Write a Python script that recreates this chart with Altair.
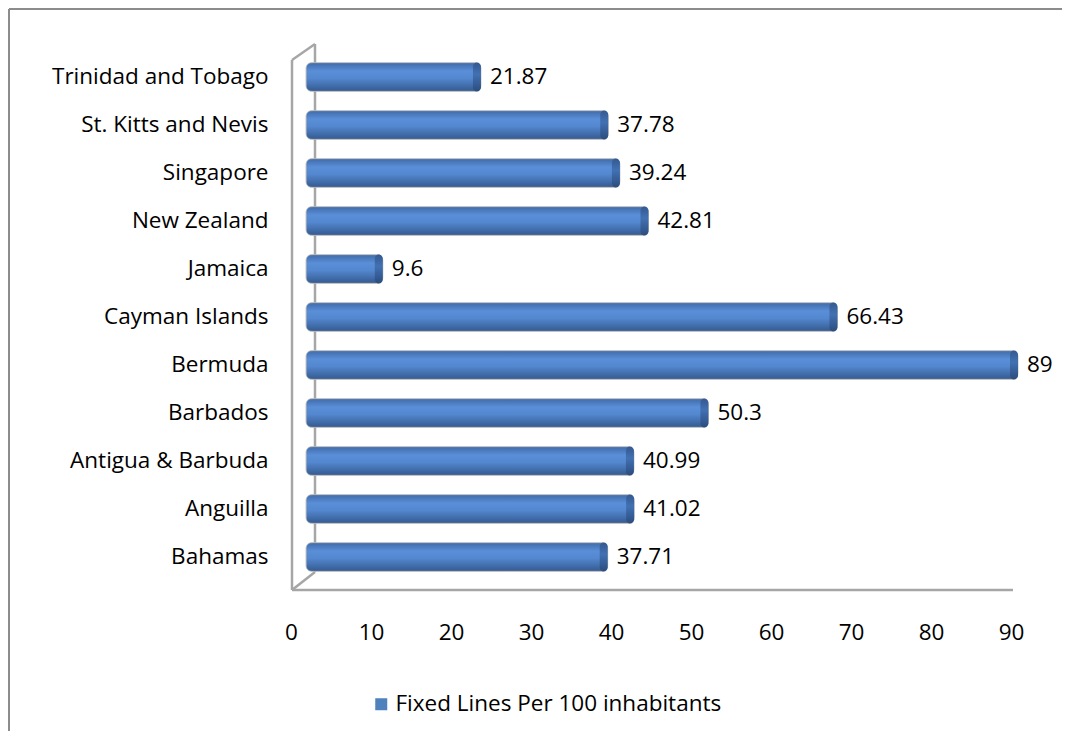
import altair as alt
import pandas as pd

countries = ["Trinidad and Tobago", "St. Kitts and Nevis", "Singapore", "New Zealand",
             "Jamaica", "Cayman Islands", "Bermuda", "Barbados", "Antigua & Barbuda",
             "Anguilla", "Bahamas"]
values = [21.87, 37.78, 39.24, 42.81, 9.6, 66.43, 89, 50.3, 40.99, 41.02, 37.71]
labels = ["21.87", "37.78", "39.24", "42.81", "9.6", "66.43", "89", "50.3", "40.99", "41.02", "37.71"]
series_name = "Fixed Lines Per 100 inhabitants"
x_ticks = [0, 10, 20, 30, 40, 50, 60, 70, 80, 90]

df = pd.DataFrame({"country": countries, "value": values, "label": labels,
                   "series": [series_name] * len(countries)})

FONT = "Open Sans"
FS = 22.5
W, H = 720, 528

xscale = alt.Scale(domain=[0, 90], nice=False, zero=True)
yscale = alt.Scale(domain=countries, paddingInner=0.4, paddingOuter=0.2)

base = alt.Chart(df)

body_grad = alt.Gradient(
    gradient="linear", x1=0, x2=0, y1=0, y2=1,
    stops=[alt.GradientStop(color="#3f6aa8", offset=0),
           alt.GradientStop(color="#5a8fd8", offset=0.3),
           alt.GradientStop(color="#5387cf", offset=0.55),
           alt.GradientStop(color="#34598f", offset=1)])
cap_grad = alt.Gradient(
    gradient="linear", x1=0, x2=0, y1=0, y2=1,
    stops=[alt.GradientStop(color="#34598f", offset=0),
           alt.GradientStop(color="#4271b3", offset=0.4),
           alt.GradientStop(color="#2c4d7e", offset=1)])

bars = base.mark_bar(fill=body_grad, cornerRadius=6, stroke="#b8b8b8", strokeWidth=0.8).encode(
    x=alt.X("value:Q", scale=xscale,
            axis=alt.Axis(values=x_ticks, title=None, grid=False, domain=False, ticks=False,
                          labelFont=FONT, labelFontSize=FS, labelColor="#000000",
                          labelPadding=40, labelOffset=-15, labelFlush=False)),
    y=alt.Y("country:N", scale=yscale, sort=countries,
            axis=alt.Axis(title=None, domain=False, ticks=False, labelFont=FONT,
                          labelFontSize=FS, labelColor="#000000", labelPadding=38,
                          labelLimit=400)),
)

caps = base.transform_calculate(start="datum.value - 1.0").mark_bar(
    fill=cap_grad, cornerRadius=6).encode(
    x=alt.X("start:Q", scale=xscale),
    x2="value:Q",
    y=alt.Y("country:N", scale=yscale, sort=countries),
)

text = base.mark_text(align="left", baseline="middle", dx=9, font=FONT, fontSize=FS,
                      color="#000000").encode(
    x=alt.X("value:Q", scale=xscale),
    y=alt.Y("country:N", scale=yscale, sort=countries),
    text="label:N",
)

legend_layer = base.mark_point(filled=True, size=0, opacity=0).encode(
    x=alt.X("value:Q", scale=xscale),
    y=alt.Y("country:N", scale=yscale, sort=countries),
    color=alt.Color("series:N", scale=alt.Scale(domain=[series_name], range=["#4f81bd"]),
                    legend=alt.Legend(title=None, orient="none", legendX=64, legendY=640,
                                      symbolType="square", symbolSize=144,
                                      symbolOpacity=1, symbolStrokeWidth=0,
                                      labelFont=FONT, labelFontSize=FS, labelLimit=600,
                                      labelColor="#000000", labelOffset=3)),
)

wall_color = "#a6a6a6"
def seg(x1, y1, x2, y2, sw=2.5, color=wall_color):
    return alt.Chart(pd.DataFrame({"k": [0]})).mark_rule(
        color=color, strokeWidth=sw).encode(
        x=alt.value(x1), y=alt.value(y1), x2=alt.value(x2), y2=alt.value(y2))

walls = [
    seg(-14, 7, -14, 537),
    seg(-14, 7, 9, -9),
    seg(9, -9, 9, 519),
    seg(-14, 537, 9, 519),
    seg(-14, 537, 707, 537),
    # outer chart border
    seg(-297, -44, 760, -44, sw=2, color="#8c8c8c"),
    seg(-297, -44, -297, 680, sw=2, color="#8c8c8c"),
]

chart = alt.layer(*walls, bars, caps, text, legend_layer).properties(
    width=W, height=H,
    background="#ffffff",
    autosize=alt.AutoSizeParams(type="none"),
    padding={"left": 298, "top": 45, "right": 36, "bottom": 150},
).configure_view(stroke=None, strokeWidth=0)

chart.save("out.html", embed_options={"renderer": "svg", "actions": False})
